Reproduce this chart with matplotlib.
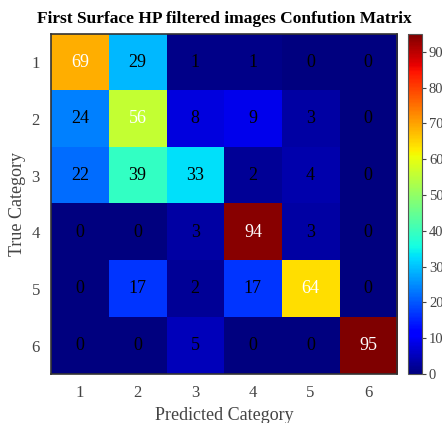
import numpy as np
import matplotlib
matplotlib.use("Agg")
from matplotlib import pyplot as plt

plt.rcParams['font.family'] = ['Liberation Serif', 'DejaVu Serif']

categories = ['1', '2', '3', '4', '5', '6']
matrix = np.array([
    [69, 29, 1, 1, 0, 0],
    [24, 56, 8, 9, 3, 0],
    [22, 39, 33, 2, 4, 0],
    [0, 0, 3, 94, 3, 0],
    [0, 17, 2, 17, 64, 0],
    [0, 0, 5, 0, 0, 95],
])
cbar_ticks = [0, 10, 20, 30, 40, 50, 60, 70, 80, 90]

fig = plt.figure(figsize=(4.42, 4.23), dpi=100)
ax = fig.add_axes([0.1154, 0.1158, 0.783, 0.804])
cax = fig.add_axes([0.923, 0.1158, 0.0317, 0.804])

im = ax.imshow(matrix, cmap='jet', vmin=0, vmax=95, aspect='auto')

# numbers in cells
for i in range(matrix.shape[0]):
    for j in range(matrix.shape[1]):
        v = matrix[i, j]
        ax.text(j, i, str(v), ha='center', va='center', fontsize=13,
                color='white' if v > 50 else 'black')

ax.set_xticks(range(len(categories)))
ax.set_xticklabels(categories)
ax.set_yticks(range(len(categories)))
ax.set_yticklabels(categories)
ax.tick_params(length=0, labelsize=12, colors='#444444', pad=8)
ax.set_xlabel('Predicted Category', fontsize=13, color='#444444')
ax.set_ylabel('True Category', fontsize=13, color='#444444')
ax.set_title('First Surface HP filtered images Confution Matrix',
             fontsize=12.5, fontweight='bold', pad=8)
for s in ax.spines.values():
    s.set_color('#333333')
    s.set_linewidth(1.2)

cb = fig.colorbar(im, cax=cax, ticks=cbar_ticks)
cb.ax.tick_params(labelsize=10.5, colors='#444444', length=3, pad=2)
cb.outline.set_edgecolor('#555555')

fig.savefig('out.png', dpi=100)
